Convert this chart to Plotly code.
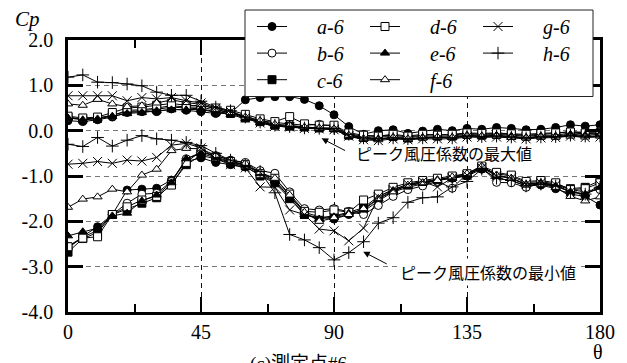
import plotly.graph_objects as go

theta = list(range(0, 181, 5))

a_max = [0.22, 0.20, 0.24, 0.30, 0.40, 0.42, 0.42, 0.48, 0.45, 0.42, 0.38, 0.39, 0.68, 0.73, 0.75, 0.75, 0.69, 0.55, 0.35, 0.09, -0.08, 0.00, 0.02, -0.06, -0.01, 0.03, 0.00, 0.05, 0.03, 0.07, 0.05, 0.02, 0.03, 0.07, 0.13, 0.10, 0.13]
b_max = [0.28, 0.26, 0.28, 0.33, 0.45, 0.46, 0.50, 0.55, 0.52, 0.52, 0.45, 0.40, 0.32, 0.22, 0.18, 0.15, 0.12, 0.14, 0.10, -0.08, -0.12, -0.12, -0.10, -0.14, -0.10, -0.08, -0.10, -0.06, -0.08, -0.06, -0.08, -0.10, -0.08, -0.06, -0.02, -0.04, -0.02]
c_max = [0.30, 0.25, 0.27, 0.35, 0.42, 0.44, 0.47, 0.52, 0.50, 0.48, 0.42, 0.38, 0.28, 0.20, 0.12, 0.10, 0.08, 0.06, 0.06, -0.10, -0.15, -0.14, -0.13, -0.16, -0.12, -0.12, -0.12, -0.08, -0.10, -0.08, -0.10, -0.12, -0.10, -0.10, -0.05, -0.07, -0.05]
d_max = [0.32, 0.28, 0.30, 0.40, 0.50, 0.52, 0.56, 0.60, 0.56, 0.55, 0.50, 0.45, 0.36, 0.26, 0.20, 0.31, 0.15, 0.12, 0.12, -0.05, -0.10, -0.12, -0.08, -0.12, -0.08, -0.10, -0.08, -0.05, -0.06, -0.05, -0.07, -0.08, -0.06, -0.05, -0.03, -0.05, -0.05]
e_max = [0.28, 0.24, 0.26, 0.32, 0.38, 0.40, 0.44, 0.46, 0.46, 0.47, 0.40, 0.36, 0.26, 0.18, 0.10, 0.08, 0.05, 0.04, 0.03, -0.12, -0.18, -0.18, -0.15, -0.20, -0.15, -0.15, -0.15, -0.10, -0.12, -0.10, -0.12, -0.15, -0.12, -0.12, -0.08, -0.10, -0.08]
f_max = [0.59, 0.56, 0.69, 0.59, 0.53, 0.55, 0.61, 0.68, 0.62, 0.58, 0.47, 0.40, 0.30, 0.22, 0.14, 0.12, 0.08, 0.06, 0.04, -0.10, -0.18, -0.20, -0.15, -0.18, -0.16, -0.14, -0.15, -0.12, -0.12, -0.12, -0.15, -0.16, -0.14, -0.14, -0.12, -0.14, -0.12]
g_max = [0.77, 0.77, 0.77, 0.77, 0.66, 0.73, 0.70, 0.73, 0.66, 0.61, 0.50, 0.42, 0.28, 0.17, 0.10, 0.08, 0.05, 0.04, 0.02, -0.12, -0.20, -0.22, -0.18, -0.20, -0.18, -0.18, -0.18, -0.14, -0.15, -0.14, -0.16, -0.18, -0.16, -0.15, -0.12, -0.15, -0.14]
h_max = [1.18, 1.23, 1.07, 1.06, 1.03, 0.99, 0.85, 0.78, 0.78, 0.65, 0.52, 0.44, 0.30, 0.19, 0.12, 0.09, 0.06, 0.05, 0.05, -0.08, -0.16, -0.18, -0.16, -0.18, -0.16, -0.15, -0.16, -0.12, -0.13, -0.12, -0.14, -0.16, -0.14, -0.13, -0.10, -0.12, -0.12]

a_min = [-2.60, -2.33, -2.12, -1.85, -1.31, -1.29, -1.27, -1.09, -0.68, -0.60, -0.70, -0.75, -0.80, -0.98, -1.12, -1.45, -1.80, -1.90, -1.95, -1.85, -1.78, -1.55, -1.35, -1.25, -1.18, -1.10, -1.05, -1.00, -0.85, -1.05, -1.10, -1.22, -1.20, -1.28, -1.40, -1.45, -1.64]
b_min = [-2.55, -2.35, -2.20, -1.85, -1.60, -1.40, -1.38, -1.12, -0.62, -0.48, -0.55, -0.65, -0.70, -0.88, -0.94, -1.35, -1.72, -1.75, -1.72, -1.78, -1.85, -1.65, -1.45, -1.30, -1.22, -1.12, -1.27, -0.95, -0.80, -1.14, -1.15, -1.25, -1.15, -1.20, -1.30, -1.35, -1.30]
c_min = [-2.68, -2.38, -2.25, -1.85, -1.73, -1.60, -1.48, -1.18, -0.75, -0.55, -0.62, -0.72, -0.78, -1.00, -1.15, -1.50, -1.85, -1.92, -1.88, -1.80, -1.70, -1.45, -1.30, -1.20, -1.12, -1.08, -1.02, -0.98, -0.82, -0.95, -1.00, -1.15, -1.12, -1.18, -1.28, -1.25, -1.10]
d_min = [-2.56, -2.37, -2.34, -1.85, -1.68, -1.53, -1.45, -1.20, -0.70, -0.45, -0.58, -0.68, -0.75, -0.95, -1.05, -1.40, -1.78, -1.80, -1.75, -1.80, -1.53, -1.40, -1.25, -1.15, -1.10, -1.05, -1.00, -0.95, -0.78, -0.92, -0.98, -1.12, -1.10, -1.15, -1.30, -1.28, -1.15]
e_min = [-2.32, -2.23, -2.15, -1.88, -1.82, -1.55, -1.42, -1.15, -0.62, -0.50, -0.60, -0.70, -0.76, -0.95, -1.10, -1.48, -1.85, -1.95, -1.90, -1.82, -1.75, -1.50, -1.32, -1.22, -1.15, -1.08, -1.05, -0.98, -0.80, -0.98, -1.05, -1.18, -1.15, -1.22, -1.35, -1.40, -1.25]
f_min = [-1.69, -1.51, -1.46, -1.29, -1.35, -0.98, -0.85, -0.44, -0.39, -0.40, -0.55, -0.65, -0.72, -0.92, -1.05, -1.42, -1.80, -2.00, -1.92, -1.85, -1.72, -1.50, -1.35, -1.20, -1.15, -1.10, -1.02, -0.95, -0.78, -0.98, -1.05, -1.20, -1.18, -1.25, -1.45, -1.55, -1.46]
g_min = [-0.74, -0.72, -0.68, -0.72, -0.65, -0.67, -0.59, -0.32, -0.28, -0.38, -0.62, -0.75, -0.82, -1.24, -1.25, -1.75, -1.85, -2.17, -2.21, -2.43, -2.15, -1.46, -1.30, -1.18, -1.12, -1.24, -1.05, -0.98, -0.82, -1.00, -1.05, -1.18, -1.15, -1.20, -1.35, -1.40, -1.20]
h_min = [-0.30, -0.35, -0.15, -0.34, -0.21, -0.11, -0.18, -0.21, -0.26, -0.33, -0.50, -0.65, -0.78, -0.90, -1.37, -2.29, -2.41, -2.58, -2.85, -2.69, -2.45, -2.04, -1.92, -1.58, -1.48, -1.46, -1.24, -1.12, -0.85, -1.05, -1.10, -1.22, -1.18, -1.22, -1.35, -1.40, -1.25]

series_names = ["a-6", "b-6", "c-6", "d-6", "e-6", "f-6", "g-6", "h-6"]
max_values = [a_max, b_max, c_max, d_max, e_max, f_max, g_max, h_max]
min_values = [a_min, b_min, c_min, d_min, e_min, f_min, g_min, h_min]

x_tick_vals = [0, 45, 90, 135, 180]
x_tick_text = ["0", "45", "90", "135", "180"]
y_tick_vals = [2, 1, 0, -1, -2, -3, -4]
y_tick_text = ["2.0", "1.0", "0.0", "-1.0", "-2.0", "-3.0", "-4.0"]

styles = {
    "a-6": ("circle", "black"),
    "b-6": ("circle", "white"),
    "c-6": ("square", "black"),
    "d-6": ("square", "white"),
    "e-6": ("triangle-up", "black"),
    "f-6": ("triangle-up", "white"),
    "g-6": ("x-thin", "black"),
    "h-6": ("cross-thin", "black"),
}
legend_of = {"a-6": "legend", "d-6": "legend", "g-6": "legend",
             "b-6": "legend2", "e-6": "legend2", "h-6": "legend2",
             "c-6": "legend3", "f-6": "legend3"}

SERIF = "Liberation Serif, Times New Roman, Times, serif"
JP = "Noto Sans CJK JP"

fig = go.Figure()
NB = "\u00a0"
for name, ymax, ymin in zip(series_names, max_values, min_values):
    sym, fill = styles[name]
    size = 9 if sym in ("x-thin", "cross-thin") else 8
    marker = dict(symbol=sym, size=size, color=fill,
                  line=dict(color="black", width=1))
    for k, yv in enumerate((ymax, ymin)):
        fig.add_trace(go.Scatter(
            x=theta, y=yv, mode="lines+markers",
            line=dict(color="black", width=1),
            marker=marker,
            name=NB * 5 + "<i>" + name + "</i>",
            legend=legend_of[name],
            showlegend=(k == 0),
        ))

W, H = 627, 363
L, R, T, B = 68, 27, 40, 51
pw, ph = W - L - R, H - T - B


def px(xp):
    return (xp - L) / pw


def py(yp):
    return (H - B - yp) / ph


leg_common = dict(orientation="h", xanchor="left", yanchor="top",
                  bgcolor="rgba(0,0,0,0)", borderwidth=0,
                  entrywidth=68, entrywidthmode="pixels",
                  font=dict(family=SERIF, size=20, color="black"))
fig.update_layout(
    width=W, height=H,
    margin=dict(l=L, r=R, t=T, b=B, autoexpand=False),
    paper_bgcolor="white", plot_bgcolor="white",
    font=dict(family=SERIF, size=20, color="black"),
    legend=dict(x=px(252), y=py(7), **leg_common),
    legend2=dict(x=px(252), y=py(33.6), **leg_common),
    legend3=dict(x=px(252), y=py(60.2), **leg_common),
    xaxis=dict(range=[0, 180], tickvals=x_tick_vals, ticktext=x_tick_text,
               ticks="inside", ticklen=15, tickwidth=2, tickcolor="black",
               minor=dict(dtick=22.5, tick0=0, ticks="inside", ticklen=8,
                          tickwidth=2, tickcolor="black", showgrid=False),
               showline=True, linewidth=2.5, linecolor="black", mirror="allticks",
               showgrid=True, gridcolor="#111", gridwidth=1, griddash="5px,4px",
               zeroline=False,
               tickfont=dict(family=SERIF, size=20, color="black")),
    yaxis=dict(range=[-4, 2], tickvals=y_tick_vals, ticktext=y_tick_text,
               ticks="inside", ticklen=15, tickwidth=2.5, tickcolor="black",
               showline=True, linewidth=2.5, linecolor="black", mirror="allticks",
               showgrid=True, gridcolor="#777", gridwidth=1, griddash="5px,4px",
               zeroline=False, ticklabelstandoff=8,
               tickfont=dict(family=SERIF, size=20, color="black")),
    showlegend=True,
)

fig.add_shape(type="rect", xref="paper", yref="paper",
              x0=px(245), x1=px(593), y0=py(96.5), y1=py(10),
              line=dict(color="#222", width=1), fillcolor="white", layer="above")

fig.add_annotation(x=127.2, y=-0.50, xref="x", yref="y", text="ピーク風圧係数の最大値",
                   showarrow=False, xanchor="center", yanchor="middle",
                   font=dict(family=JP, size=16, color="black"))
fig.add_annotation(x=85.8, y=-0.17, xref="x", yref="y", text="", showarrow=True,
                   ax=25, ay=13, arrowhead=2, arrowsize=1.3, arrowwidth=1, arrowcolor="black")
fig.add_annotation(x=142.1, y=-3.11, xref="x", yref="y", text="ピーク風圧係数の最小値",
                   showarrow=False, bgcolor="white", xanchor="center", yanchor="middle",
                   font=dict(family=JP, size=16, color="black"))
fig.add_annotation(x=99.9, y=-2.67, xref="x", yref="y", text="", showarrow=True,
                   ax=25, ay=13, arrowhead=2, arrowsize=1.3, arrowwidth=1, arrowcolor="black")

fig.add_annotation(x=px(13), y=py(19), xref="paper", yref="paper",
                   xanchor="left", yanchor="middle",
                   text="<i>Cp</i>", showarrow=False,
                   font=dict(family=SERIF, size=21, color="black"))
fig.add_annotation(x=px(597.5), y=py(351.5), xref="paper", yref="paper",
                   xanchor="center", yanchor="middle",
                   text="θ", showarrow=False,
                   font=dict(family=SERIF, size=20, color="black"))
fig.add_annotation(x=px(298), y=py(364), xref="paper", yref="paper",
                   xanchor="center", yanchor="middle",
                   text="(c)測定点#6", showarrow=False,
                   font=dict(family=SERIF + ", " + JP, size=19, color="black"))

fig.write_html("out.html", config={"displayModeBar": False},
               post_script="document.body.style.margin='0px';")
